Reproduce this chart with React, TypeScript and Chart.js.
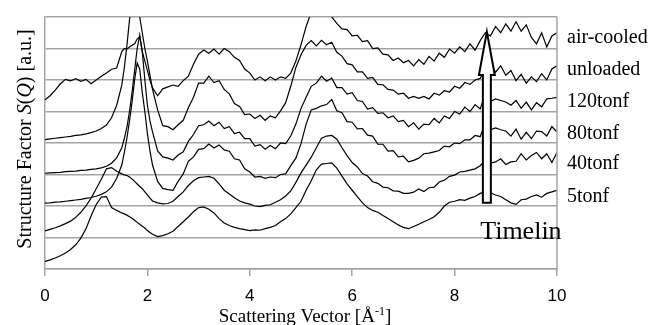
import React, { useEffect, useRef } from 'react';
import { Chart, registerables } from 'chart.js';

Chart.register(...registerables);

// Scattering vector Q [Å^-1]
const Q = [
  0, 0.1, 0.2, 0.3, 0.4, 0.5, 0.6, 0.7, 0.8, 0.9, 1.0, 1.1, 1.2, 1.3, 1.4, 1.5,
  1.55, 1.6, 1.65, 1.7, 1.75, 1.8, 1.85, 1.9, 1.95, 2.0, 2.05,
  2.1, 2.2, 2.3, 2.4, 2.5, 2.6, 2.7, 2.8, 2.9, 3.0,
  3.1, 3.2, 3.3, 3.4, 3.5, 3.6, 3.7, 3.8, 3.9, 4.0,
  4.1, 4.2, 4.3, 4.4, 4.5, 4.6, 4.7, 4.8, 4.9, 5.0,
  5.1, 5.2, 5.3, 5.4, 5.5, 5.6, 5.7, 5.8, 5.9, 6.0,
  6.1, 6.2, 6.3, 6.4, 6.5, 6.6, 6.7, 6.8, 6.9, 7.0,
  7.1, 7.2, 7.3, 7.4, 7.5, 7.6, 7.7, 7.8, 7.9, 8.0,
  8.1, 8.2, 8.3, 8.4, 8.5, 8.6, 8.7, 8.8, 8.9, 9.0,
  9.1, 9.2, 9.3, 9.4, 9.5, 9.6, 9.7, 9.8, 9.9, 10.0,
];

const AIR_COOLED = [
  5.37, 5.5, 5.68, 5.88, 6.02, 5.97, 6.04, 5.96, 6.02, 5.88, 6.0, 6.12, 6.22, 6.34, 6.38, 6.9,
  7.0, 6.98, 7.05, 7.1, 7.15, 7.3, 7.37, 6.9, 6.6, 6.3, 6.0,
  5.75, 5.5, 5.72, 5.78, 5.84, 5.8, 5.98, 6.12, 6.5, 6.82,
  6.95, 6.85, 6.98, 6.82, 7.0, 6.9, 6.72, 6.62, 6.35, 6.22,
  6.0, 6.1, 5.98, 6.1, 6.0, 6.1, 6.05, 6.22, 6.6, 7.12,
  7.7, 8.15, 8.45, 8.6, 8.5, 8.0, 7.8, 7.62, 7.6, 7.4,
  7.42, 7.22, 7.25, 7.0, 7.02, 6.82, 6.8, 6.62, 6.7, 6.55,
  6.62, 6.45, 6.65, 6.5, 6.75, 6.6, 6.85, 6.72, 6.98, 6.85,
  7.05, 6.9, 7.15, 6.95, 7.25, 7.5, 7.4, 7.7, 7.5, 7.78,
  7.55, 7.85, 7.55, 7.75, 7.35, 7.15, 7.5, 7.05, 7.4, 7.5,
];

const UNLOADED = [
  4.11, 4.13, 4.15, 4.17, 4.19, 4.21, 4.24, 4.26, 4.29, 4.33, 4.38, 4.46, 4.57, 4.8, 5.2, 5.84,
  6.4, 7.1, 7.9, 8.6, 9.0, 8.6, 8.0, 7.5, 7.0, 6.6, 6.15,
  5.7, 5.05, 4.55, 4.52, 4.42, 4.58, 4.72, 5.12, 5.45, 5.9,
  5.9, 6.12, 5.92, 5.98, 5.7, 5.56, 5.25, 5.16, 4.9, 4.92,
  4.78, 4.88, 4.72, 4.86, 4.8, 5.02, 5.28, 5.8, 6.4, 6.8,
  7.1, 7.25, 7.08, 7.26, 7.12, 7.2, 6.88, 6.76, 6.52, 6.48,
  6.26, 6.26, 6.05, 6.08, 5.86, 5.85, 5.7, 5.68, 5.55, 5.58,
  5.42, 5.48, 5.42, 5.48, 5.4, 5.58, 5.52, 5.66, 5.62, 5.8,
  5.74, 5.92, 5.86, 6.0, 6.05, 6.4, 6.5, 6.25, 6.45, 6.15,
  6.3, 5.98, 6.18, 5.9, 6.1, 5.95, 6.2, 6.0, 6.35, 6.45,
];

const TONF_120 = [
  3.04, 3.05, 3.06, 3.07, 3.09, 3.1, 3.11, 3.13, 3.14, 3.16, 3.18, 3.21, 3.26, 3.36, 3.53, 3.85,
  4.15, 4.5, 5.0, 5.6, 6.3, 7.0, 7.43, 6.9, 6.0, 5.2, 4.7,
  4.35, 3.75, 3.56, 3.52, 3.46, 3.62, 3.72, 4.05, 4.27, 4.55,
  4.58, 4.7, 4.55, 4.66, 4.46, 4.52, 4.3, 4.34, 4.14, 4.14,
  3.9, 3.95, 3.8, 3.92, 3.82, 4.0, 3.98, 4.22, 4.6, 5.1,
  5.45, 5.8, 5.9, 6.12, 5.96, 6.06, 5.76, 5.76, 5.55, 5.6,
  5.35, 5.32, 5.08, 5.12, 4.94, 4.96, 4.8, 4.86, 4.68, 4.72,
  4.52, 4.64, 4.44, 4.6, 4.58, 4.78, 4.64, 4.86, 4.78, 5.0,
  4.92, 5.14, 5.0, 5.22, 5.08, 5.55, 5.32, 5.4, 5.35, 5.3,
  5.2, 5.35, 5.1, 5.3, 5.05, 5.28, 5.15, 5.4, 5.42, 5.45,
];

const TONF_80 = [
  2.09, 2.1, 2.12, 2.13, 2.15, 2.17, 2.19, 2.21, 2.24, 2.27, 2.31, 2.37, 2.45, 2.6, 2.88, 3.3,
  3.7, 4.15, 4.7, 5.3, 6.0, 6.54, 6.35, 5.6, 5.0, 4.3, 3.75,
  3.3, 2.78, 2.56, 2.52, 2.5, 2.78, 3.02, 3.42, 3.56, 3.8,
  3.82, 3.97, 3.84, 3.94, 3.78, 3.74, 3.5, 3.46, 3.18, 3.08,
  2.92, 2.94, 2.88, 2.92, 2.9, 3.0, 3.02, 3.28, 3.52, 3.98,
  4.6, 5.05, 5.1, 5.18, 5.22, 5.38, 5.02, 4.96, 4.68, 4.66,
  4.45, 4.46, 4.25, 4.22, 3.96, 3.96, 3.74, 3.76, 3.56, 3.58,
  3.4, 3.45, 3.52, 3.66, 3.68, 3.72, 3.76, 3.9, 3.88, 4.0,
  3.98, 4.1, 4.1, 4.24, 4.2, 4.65, 4.42, 4.48, 4.42, 4.38,
  4.22, 4.44, 4.12, 4.34, 4.14, 4.38, 4.36, 4.22, 4.52, 4.35,
];

const TONF_40 = [
  1.21, 1.26, 1.31, 1.37, 1.44, 1.52, 1.64, 1.8, 2.0, 2.25, 2.55, 2.85, 3.18, 3.22, 3.1, 3.02,
  2.99, 2.97, 2.92, 2.86, 2.78, 2.7, 2.62, 2.55, 2.45, 2.35, 2.25,
  2.16, 2.1, 2.07, 2.08, 2.15, 2.3, 2.45, 2.65, 2.8, 2.9,
  2.92, 2.94, 2.88, 2.7, 2.5, 2.38, 2.26, 2.16, 2.1, 2.06,
  2.0, 1.98, 2.02, 2.04, 2.12, 2.2, 2.32, 2.48, 2.75, 3.05,
  3.3, 3.55, 3.85, 4.15, 4.22, 4.24, 4.12, 3.85, 3.6, 3.38,
  3.24, 3.03, 2.95, 2.77, 2.72, 2.6, 2.58, 2.48, 2.47, 2.4,
  2.4, 2.44, 2.54, 2.46, 2.58, 2.6, 2.76, 2.82, 2.94, 2.98,
  3.08, 3.1, 3.14, 3.18, 3.28, 3.45, 3.36, 3.4, 3.5, 3.32,
  3.4, 3.42, 3.66, 3.46, 3.6, 3.7, 3.5, 3.66, 3.38, 3.7,
];

const TONF_5 = [
  0.24, 0.29, 0.35, 0.42, 0.51, 0.62, 0.77, 0.98, 1.28, 1.68, 2.05, 2.28, 2.3, 1.95, 1.86, 1.78,
  1.75, 1.71, 1.66, 1.61, 1.55, 1.48, 1.42, 1.36, 1.3, 1.22, 1.16,
  1.1, 1.03, 1.06, 1.12, 1.2, 1.35, 1.5, 1.65, 1.82, 1.95,
  1.97, 1.9, 1.78, 1.6, 1.46, 1.38, 1.32, 1.28, 1.25, 1.22,
  1.24, 1.23, 1.28, 1.32, 1.38, 1.5, 1.6, 1.75, 1.95, 2.15,
  2.5, 2.8, 3.15, 3.33, 3.35, 3.37, 3.2, 2.95, 2.7, 2.5,
  2.3, 2.1, 1.95, 1.86, 1.8, 1.7, 1.6, 1.5, 1.4, 1.32,
  1.28, 1.35, 1.42, 1.5, 1.57, 1.66, 1.8, 2.0, 2.12, 2.15,
  2.2, 2.18, 2.25, 2.3, 2.4, 2.45, 2.42, 2.35, 2.3, 2.2,
  2.1, 2.05, 2.2, 2.22, 2.3, 2.35, 2.28, 2.4, 2.45, 2.5,
];

const SERIES_NAMES = ['air-cooled', 'unloaded', '120tonf', '80tonf', '40tonf', '5tonf'];
const SERIES_VALUES = [AIR_COOLED, UNLOADED, TONF_120, TONF_80, TONF_40, TONF_5];
// vertical level (in a.u.) of each right-hand series label
const LABEL_LEVELS = [7.35, 6.33, 5.3, 4.28, 3.33, 2.3];

const X_MIN = 0;
const X_MAX = 10;
const X_STEP = 2;
const Y_MIN = 0;
const Y_MAX = 8;

// "Timelin" arrow annotation, in data units
const ARROW_X = 8.63;
const ARROW_TIP = 7.53;
const ARROW_HEAD_BASE = 6.16;
const ARROW_BOTTOM = 2.1;
const ARROW_SHAFT_HALF = 0.078;
const ARROW_HEAD_HALF = 0.155;
const TIMELINE_TEXT = 'Timelin';
const TIMELINE_X = 8.5;
const TIMELINE_Y = 1.18;

const Y_TITLE_PARTS: [string, boolean][] = [
  ['Structure Factor ', false],
  ['S', true],
  ['(', false],
  ['Q', true],
  [') [a.u.]', false],
];

const GRID = '#a3a3a3';
const SERIF = '"Liberation Serif", "Times New Roman", serif';

const overlay = {
  id: 'overlay',
  afterDraw(chart: any) {
    const { ctx, chartArea } = chart;
    const xs = chart.scales.x;
    const ys = chart.scales.y;
    ctx.save();

    // right frame line
    ctx.strokeStyle = GRID;
    ctx.lineWidth = 1.5;
    ctx.beginPath();
    ctx.moveTo(chartArea.right, chartArea.top);
    ctx.lineTo(chartArea.right, chartArea.bottom);
    ctx.stroke();

    // arrow
    const cx = xs.getPixelForValue(ARROW_X);
    const sl = xs.getPixelForValue(ARROW_X - ARROW_SHAFT_HALF);
    const sr = xs.getPixelForValue(ARROW_X + ARROW_SHAFT_HALF);
    const hl = xs.getPixelForValue(ARROW_X - ARROW_HEAD_HALF);
    const hr = xs.getPixelForValue(ARROW_X + ARROW_HEAD_HALF);
    const tip = ys.getPixelForValue(ARROW_TIP);
    const hb = ys.getPixelForValue(ARROW_HEAD_BASE);
    const bot = ys.getPixelForValue(ARROW_BOTTOM);
    ctx.beginPath();
    ctx.moveTo(cx, tip);
    ctx.lineTo(hr, hb);
    ctx.lineTo(sr, hb);
    ctx.lineTo(sr, bot);
    ctx.lineTo(sl, bot);
    ctx.lineTo(sl, hb);
    ctx.lineTo(hl, hb);
    ctx.closePath();
    ctx.fillStyle = '#fff';
    ctx.fill();
    ctx.strokeStyle = '#000';
    ctx.lineWidth = 2;
    ctx.lineJoin = 'miter';
    ctx.stroke();

    // Timelin text
    ctx.fillStyle = '#000';
    ctx.font = `26px ${SERIF}`;
    ctx.textAlign = 'left';
    ctx.textBaseline = 'middle';
    ctx.fillText(TIMELINE_TEXT, xs.getPixelForValue(TIMELINE_X), ys.getPixelForValue(TIMELINE_Y));

    // series labels
    ctx.font = `20px ${SERIF}`;
    SERIES_NAMES.forEach((name, i) => {
      ctx.fillText(name, chartArea.right + 10, ys.getPixelForValue(LABEL_LEVELS[i]));
    });

    // x title with superscript
    const mainFont = `19px ${SERIF}`;
    const supFont = `12px ${SERIF}`;
    ctx.textBaseline = 'alphabetic';
    ctx.font = mainFont;
    const p1 = 'Scattering Vector [Å';
    const p3 = ']';
    const w1 = ctx.measureText(p1).width;
    const w3 = ctx.measureText(p3).width;
    ctx.font = supFont;
    const p2 = '-1';
    const w2 = ctx.measureText(p2).width;
    const total = w1 + w2 + w3;
    const midX = (chartArea.left + chartArea.right) / 2 + 4;
    let tx = midX - total / 2;
    const baseY = 321.5;
    ctx.font = mainFont;
    ctx.fillText(p1, tx, baseY);
    tx += w1;
    ctx.font = supFont;
    ctx.fillText(p2, tx, baseY - 7);
    tx += w2;
    ctx.font = mainFont;
    ctx.fillText(p3, tx, baseY);

    // y title (rotated)
    ctx.save();
    ctx.translate(31, (chartArea.top + chartArea.bottom) / 2 - 4);
    ctx.rotate(-Math.PI / 2);
    const fonts = Y_TITLE_PARTS.map(([, it]) => (it ? `italic 20px ${SERIF}` : `20px ${SERIF}`));
    let tw = 0;
    const widths = Y_TITLE_PARTS.map(([t], i) => {
      ctx.font = fonts[i];
      const w = ctx.measureText(t).width;
      tw += w;
      return w;
    });
    let yx = -tw / 2;
    Y_TITLE_PARTS.forEach(([t], i) => {
      ctx.font = fonts[i];
      ctx.fillText(t, yx, 0);
      yx += widths[i];
    });
    ctx.restore();

    ctx.restore();
  },
};

export default function App() {
  const ref = useRef<HTMLCanvasElement | null>(null);

  useEffect(() => {
    const canvas = ref.current;
    if (!canvas) return;
    const datasets = SERIES_VALUES.map((vals, i) => ({
      label: SERIES_NAMES[i],
      data: Q.map((q, j) => ({ x: q, y: vals[j] })),
      borderColor: '#000',
      borderWidth: 1.2,
      pointRadius: 0,
      tension: 0,
      fill: false,
    }));
    const chart = new Chart(canvas, {
      type: 'line',
      data: { datasets },
      options: {
        animation: false,
        responsive: false,
        devicePixelRatio: 1,
        layout: { padding: { top: 17, right: 98, left: 0, bottom: 0 } },
        plugins: { legend: { display: false }, tooltip: { enabled: false }, title: { display: false } },
        scales: {
          x: {
            type: 'linear',
            min: X_MIN,
            max: X_MAX,
            afterFit: (s: any) => {
              s.height = 56;
            },
            ticks: {
              stepSize: X_STEP,
              color: '#000',
              padding: 10,
              maxRotation: 0,
              font: { family: '"Liberation Sans", Arial, sans-serif', size: 17 },
            },
            grid: { drawOnChartArea: false, drawTicks: true, tickLength: 7, color: GRID, lineWidth: 1.5 },
            border: { display: true, color: GRID, width: 1.5 },
          },
          y: {
            type: 'linear',
            min: Y_MIN,
            max: Y_MAX,
            afterFit: (s: any) => {
              s.width = 45;
            },
            ticks: { stepSize: 1, display: false },
            grid: { drawTicks: false, color: GRID, lineWidth: 1.5 },
            border: { display: true, color: GRID, width: 1.5 },
          },
        },
      },
      plugins: [overlay],
    });
    return () => chart.destroy();
  }, []);

  return (
    <div style={{ position: 'fixed', left: 0, top: 0, width: 655, height: 325, background: '#fff' }}>
      <canvas ref={ref} width={655} height={325} style={{ display: 'block', width: 655, height: 325 }} />
    </div>
  );
}
